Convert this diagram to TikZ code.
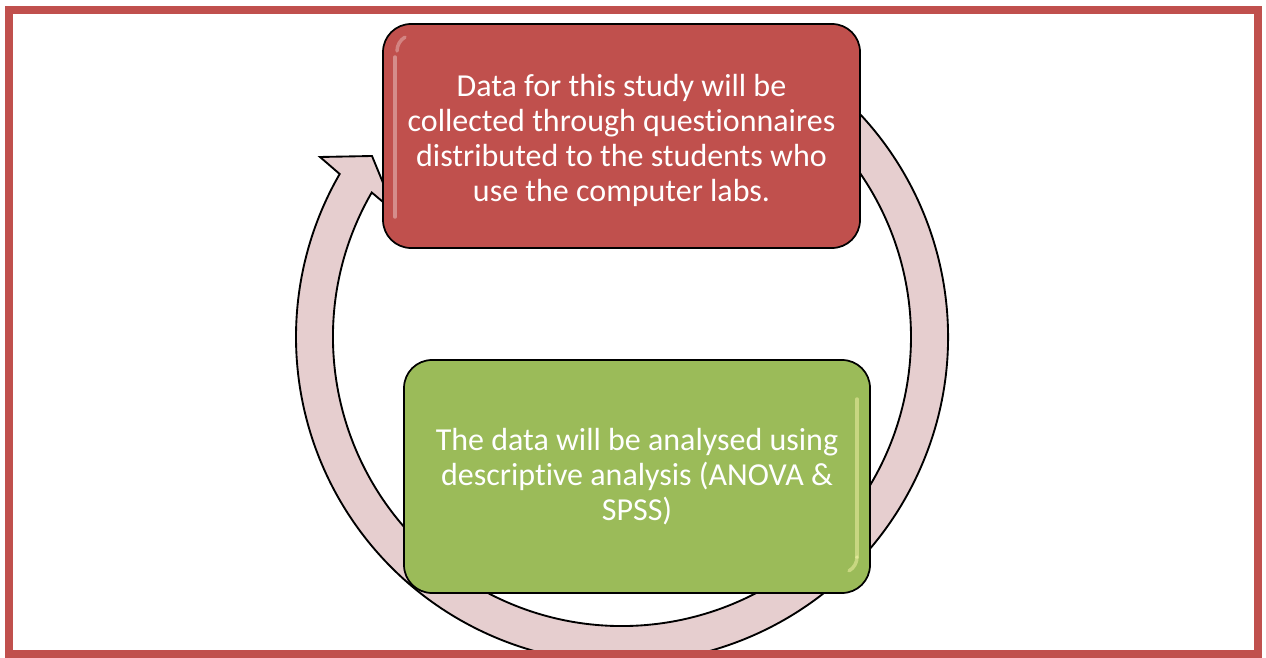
\documentclass[tikz,border=0pt]{standalone}
\usepackage{fontspec}
\setmainfont{Carlito}[Ligatures=NoCommon]
\usepackage{tikz}
\usetikzlibrary{positioning}

\definecolor{framered}{HTML}{C0504D}
\definecolor{boxred}{HTML}{C0504D}
\definecolor{boxgreen}{HTML}{9BBB59}
\definecolor{ringpink}{HTML}{E6CECF}

\tikzset{
  stage/.style={rounded corners=21pt, draw=black, line width=1.3pt,
    text=white, align=center, font=\fontsize{24}{26.3}\selectfont},
  ring/.style={fill=ringpink, draw=black, line width=1.4pt, line join=miter},
  gloss/.style={white, line width=2.6pt, line cap=round},
}

\begin{document}
\begin{tikzpicture}[x=0.75pt,y=0.75pt]
  \def\R{326}
  \def\r{289}
  \useasboundingbox (0,0) rectangle (1266,657);
  \fill[white] (0,0) rectangle (1266,657);

  % circular arrow behind the two stages
  \draw[ring] (622,320) ++(65:\R) arc(65:-210:\R)
    -- (320,500) -- (372,501) -- (395,445)
    -- ([shift={(622,320)}]150:\r) arc(150:425:\r) -- cycle;

  \node[stage, fill=boxred, minimum width=357.75pt, minimum height=168pt]
    (collect) at (621.5,521) {\rule{0pt}{23pt}Data for this study will be\\
    collected through questionnaires\\
    distributed to the students who\\
    use the computer labs.};
  \node[stage, fill=boxgreen, minimum width=349.5pt, minimum height=174.75pt]
    (analyse) at (637,180.5) {The data will be analysed using\\
    descriptive analysis (ANOVA \&\\
    SPSS)};

  % light streaks on the stages
  \draw[gloss, opacity=.35] (395,600) -- (395,440);
  \draw[gloss, opacity=.3] (397,606) arc(180:120:16);
  \draw[gloss, opacity=.45, white!70!yellow] (857,258) -- (857,100);
  \draw[gloss, opacity=.45, white!70!yellow] (857,100) arc(0:-60:16);

  \draw[framered, line width=6pt] (9,647) rectangle (1257.5,3);
\end{tikzpicture}
\end{document}
